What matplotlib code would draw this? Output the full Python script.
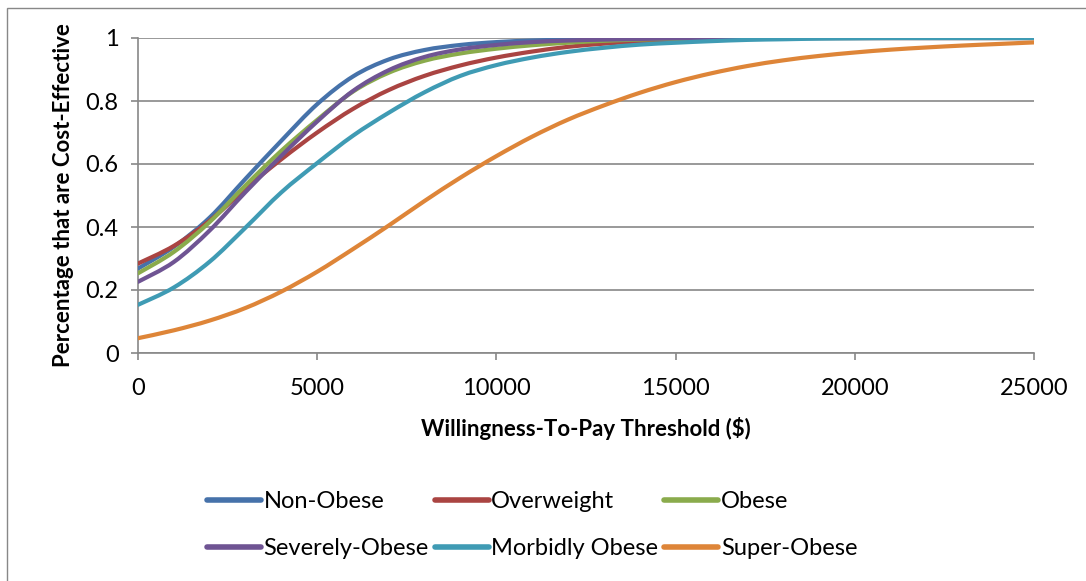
import matplotlib
matplotlib.use("Agg")
import matplotlib.pyplot as plt
import numpy as np
from matplotlib.patches import Rectangle, PathPatch
from matplotlib.path import Path
from matplotlib.lines import Line2D

plt.rcParams['font.family'] = ['Lato', 'DejaVu Sans']

wtp = list(range(0, 26000, 1000))

non_obese = [0.268, 0.337, 0.430, 0.553, 0.674, 0.790, 0.878, 0.932, 0.962, 0.978,
             0.987, 0.992, 0.995, 0.997, 0.998, 0.999, 1.0, 1.0, 1.0, 1.0,
             1.0, 1.0, 1.0, 1.0, 1.0, 1.0]
overweight = [0.284, 0.340, 0.420, 0.522, 0.615, 0.700, 0.775, 0.835, 0.880, 0.913,
              0.938, 0.957, 0.972, 0.982, 0.989, 0.994, 0.997, 0.999, 1.0, 1.0,
              1.0, 1.0, 1.0, 1.0, 1.0, 1.0]
obese = [0.253, 0.321, 0.416, 0.532, 0.642, 0.740, 0.830, 0.890, 0.928, 0.951,
         0.966, 0.977, 0.985, 0.991, 0.995, 0.997, 0.999, 1.0, 1.0, 1.0,
         1.0, 1.0, 1.0, 1.0, 1.0, 1.0]
severely_obese = [0.226, 0.289, 0.389, 0.511, 0.626, 0.735, 0.832, 0.898, 0.940, 0.964,
                  0.978, 0.987, 0.992, 0.995, 0.997, 0.999, 1.0, 1.0, 1.0, 1.0,
                  1.0, 1.0, 1.0, 1.0, 1.0, 1.0]
morbidly_obese = [0.153, 0.208, 0.290, 0.398, 0.510, 0.603, 0.690, 0.763, 0.828, 0.880,
                  0.914, 0.938, 0.956, 0.969, 0.979, 0.985, 0.990, 0.994, 0.996, 0.998,
                  0.999, 1.0, 1.0, 1.0, 1.0, 1.0]
super_obese = [0.047, 0.072, 0.103, 0.143, 0.195, 0.258, 0.330, 0.405, 0.483, 0.557,
               0.625, 0.687, 0.741, 0.786, 0.826, 0.860, 0.888, 0.911, 0.929, 0.943,
               0.954, 0.963, 0.970, 0.976, 0.981, 0.986]

series_names = ["Non-Obese", "Overweight", "Obese", "Severely-Obese", "Morbidly Obese", "Super-Obese"]
series_values = [non_obese, overweight, obese, severely_obese, morbidly_obese, super_obese]
series_colors = ["#4672AA", "#AA4442", "#8AAB4C", "#6F5493", "#3F9BB4", "#DE8538"]

x_ticks = [0, 5000, 10000, 15000, 20000, 25000]
x_tick_labels = ["0", "5000", "10000", "15000", "20000", "25000"]
y_ticks = [0, 0.2, 0.4, 0.6, 0.8, 1.0]
y_tick_labels = ["0", "0.2", "0.4", "0.6", "0.8", "1"]


def smooth_path(xs, ys, tension=1.0 / 6.0):
    """Excel-style smoothed line: cubic Bezier segments through the data points."""
    xs = np.asarray(xs, float)
    ys = np.asarray(ys, float)
    n = len(xs)
    verts = [(xs[0], ys[0])]
    codes = [Path.MOVETO]
    for i in range(n - 1):
        x0, y0 = (xs[i - 1], ys[i - 1]) if i > 0 else (xs[i], ys[i])
        x1, y1 = xs[i], ys[i]
        x2, y2 = xs[i + 1], ys[i + 1]
        x3, y3 = (xs[i + 2], ys[i + 2]) if i + 2 < n else (xs[i + 1], ys[i + 1])
        c1 = (x1 + (x2 - x0) * tension, y1 + (y2 - y0) * tension)
        c2 = (x2 - (x3 - x1) * tension, y2 - (y3 - y1) * tension)
        verts += [c1, c2, (x2, y2)]
        codes += [Path.CURVE4] * 3
    return Path(verts, codes)


W, H = 1086, 581
fig = plt.figure(figsize=(W / 100, H / 100), dpi=100)
ax = fig.add_axes([138 / W, 1 - 353 / H, (1034 - 138) / W, (353 - 38) / H])

handles = {}
for name, vals, col in zip(series_names, series_values, series_colors):
    patch = PathPatch(smooth_path(wtp, vals), facecolor='none', edgecolor=col, lw=3.0,
                      capstyle='round', joinstyle='round', zorder=3)
    ax.add_patch(patch)
    handles[name] = Line2D([], [], color=col, lw=4, solid_capstyle='round')

ax.set_xlim(0, 25000)
ax.set_ylim(0, 1)
ax.set_xticks(x_ticks)
ax.set_xticklabels(x_tick_labels)
ax.set_yticks(y_ticks)
ax.set_yticklabels(y_tick_labels)
ax.grid(axis='y', color='#888888', lw=1.2, zorder=1)
ax.set_axisbelow(True)
for s in ['top', 'right']:
    ax.spines[s].set_visible(False)
for s in ['left', 'bottom']:
    ax.spines[s].set_color('#888888')
    ax.spines[s].set_linewidth(1.2)
ax.tick_params(axis='both', colors='#888888', labelcolor='black', labelsize=17, length=5, width=1.2)
ax.tick_params(axis='y', pad=9)
ax.tick_params(axis='x', pad=13)

ax.set_xlabel("Willingness-To-Pay Threshold ($)", fontsize=16, fontweight='bold', labelpad=13)
ax.set_ylabel("Percentage that are Cost-Effective", fontsize=16, fontweight='bold', labelpad=8)

# row-wise legend order for a 3-column layout (matplotlib fills column-wise)
order = [0, 3, 1, 4, 2, 5]
leg = fig.legend([handles[series_names[i]] for i in order],
                 [series_names[i] for i in order],
                 loc='center', bbox_to_anchor=(532 / W, 1 - 525 / H), ncol=3, frameon=False,
                 fontsize=17, handlelength=2.3, handletextpad=0.1, columnspacing=0.25,
                 labelspacing=1.1)

fig.patches.append(Rectangle((7 / W, -0.2), 1.5, 1.2 - 8 / H, transform=fig.transFigure,
                             fill=False, edgecolor='#888888', lw=1.0))

fig.savefig("out.png", dpi=100)
